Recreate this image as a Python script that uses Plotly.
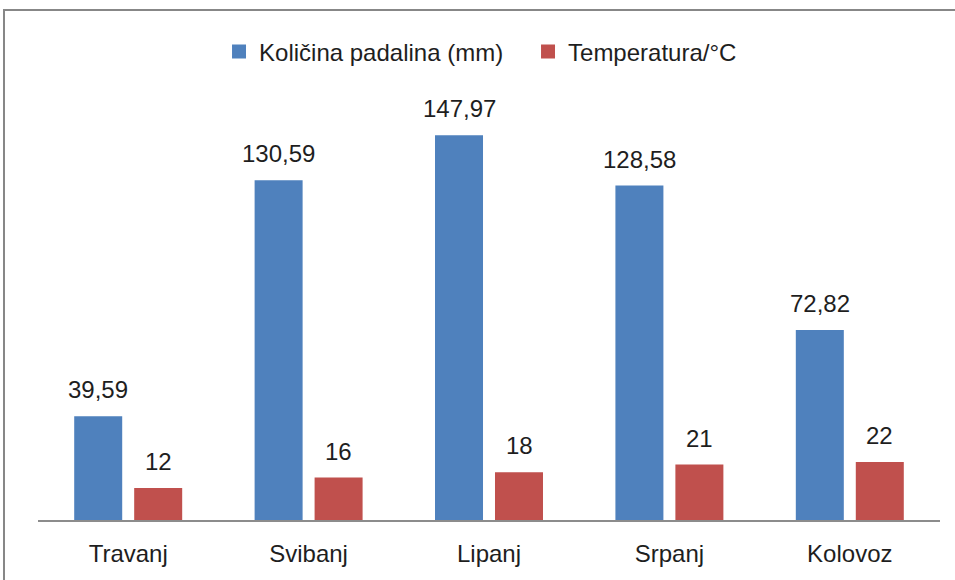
import plotly.graph_objects as go

months = ["Travanj", "Svibanj", "Lipanj", "Srpanj", "Kolovoz"]
rain = [39.59, 130.59, 147.97, 128.58, 72.82]
temp = [12, 16, 18, 21, 22]
rain_name = "Količina padalina (mm)"
temp_name = "Temperatura/°C"

blue = "#4F81BD"
red = "#C0504D"
font = "Liberation Sans, Arial, sans-serif"
fs = 24
txt = "#1e1e1e"

fig = go.Figure()
fig.add_trace(go.Bar(x=months, y=rain, name=rain_name, marker=dict(color=blue, line=dict(width=2, color=blue))))
fig.add_trace(go.Bar(x=months, y=temp, name=temp_name, marker=dict(color=red, line=dict(width=2, color=red))))

def fmt(v):
    s = f"{v:.2f}".rstrip("0").rstrip(".") if isinstance(v, float) else str(v)
    return s.replace(".", ",")

anns = []
for m, r, t in zip(months, rain, temp):
    anns.append(dict(x=m, y=r, text=fmt(r), xshift=-30, yshift=12, showarrow=False,
                     yanchor="bottom", font=dict(size=fs, color=txt, family=font)))
    anns.append(dict(x=m, y=t, text=fmt(t), xshift=30, yshift=12, showarrow=False,
                     yanchor="bottom", font=dict(size=fs, color=txt, family=font)))

fig.update_layout(
    width=955, height=580,
    margin=dict(l=38, r=15, t=105, b=60),
    paper_bgcolor="white", plot_bgcolor="white",
    barmode="group", bargap=0.335, bargroupgap=0.233,
    font=dict(family=font, size=fs, color=txt),
    showlegend=True,
    legend=dict(orientation="h", x=0.2007, xanchor="left", y=1.128, yanchor="middle",
                font=dict(size=fs, color=txt), itemwidth=30, entrywidth=264,
                traceorder="normal"),
    annotations=anns,
    shapes=[dict(type="rect", xref="paper", yref="paper", x0=-0.0377, x1=1.03, y0=-0.2, y1=1.229,
                 line=dict(color="#878787", width=2), fillcolor="rgba(0,0,0,0)", layer="below")],
    xaxis=dict(showline=True, linecolor="#8c8c8c", linewidth=1.5, ticks="", showgrid=False,
               ticklabelstandoff=11, tickfont=dict(size=fs, color=txt)),
    yaxis=dict(range=[0, 160], visible=False, showgrid=False, zeroline=False),
)

fig.write_html("out.html", config={"displayModeBar": False},
               post_script="document.body.style.margin='0';document.body.style.overflow='hidden';")
